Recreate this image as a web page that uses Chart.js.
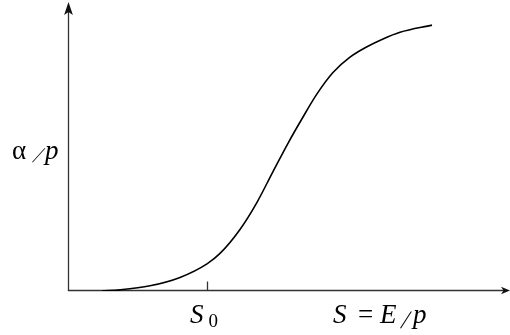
<!DOCTYPE html>
<html>
<head>
<meta charset="utf-8">
<script src="https://cdn.jsdelivr.net/npm/chart.js@4"></script>
<style>
  body { margin: 0; background: #fff; }
  canvas { display: block; }
</style>
</head>
<body>
<canvas id="curveChart" width="510" height="335"></canvas>
<script>
// S = E/p along the horizontal axis, alpha/p on the vertical one
const sValues = [0.769, 1.176, 1.855, 2.534, 3.145, 3.439, 3.891, 4.276, 4.638, 4.977, 5.294, 5.633, 5.995, 6.380, 6.765, 7.127, 7.511, 8.235];
const alphaValues = [0, 0.004, 0.018, 0.047, 0.094, 0.130, 0.213, 0.307, 0.413, 0.511, 0.596, 0.682, 0.756, 0.809, 0.845, 0.872, 0.895, 0.920];
const s0 = 3.145;

const serif = '"Liberation Serif", "Times New Roman", serif';

// build the point list for the line dataset
const points = sValues.map((s, i) => ({ x: s, y: alphaValues[i] }));

function arrowHead(ctx, tipX, tipY, dirX, dirY, len, half, notch) {
  // dir is a unit vector pointing the way the arrow points
  const bx = tipX - dirX * len, by = tipY - dirY * len;
  const nx = tipX - dirX * notch, ny = tipY - dirY * notch;
  ctx.beginPath();
  ctx.moveTo(tipX, tipY);
  ctx.lineTo(bx - dirY * half, by + dirX * half);
  ctx.lineTo(nx, ny);
  ctx.lineTo(bx + dirY * half, by - dirX * half);
  ctx.closePath();
  ctx.fill();
}

function label(ctx, str, x, y, font) {
  ctx.font = font;
  ctx.fillText(str, x, y);
}

// slanted slash: a "/" sheared so its top leans further right
function slash(ctx, x, y, size, lean) {
  ctx.save();
  ctx.translate(x, y);
  ctx.transform(1, 0, -lean, 1, 0, 0);
  label(ctx, '/', 0, 0, size + 'px ' + serif);
  ctx.restore();
}

const axesPlugin = {
  id: 'arrowAxes',
  beforeDatasetsDraw(chart) {
    const ctx = chart.ctx;
    const xs = chart.scales.x, ys = chart.scales.y;
    const x0 = Math.round(xs.getPixelForValue(0)) + 0.5;
    const y0 = Math.round(ys.getPixelForValue(0)) - 0.5;
    const top = chart.chartArea.top;
    const right = chart.chartArea.right;

    ctx.save();
    ctx.strokeStyle = '#333';
    ctx.fillStyle = '#111';
    ctx.lineWidth = 1.3;

    // vertical axis
    ctx.beginPath();
    ctx.moveTo(x0, y0 + 0.6);
    ctx.lineTo(x0, top + 10);
    ctx.stroke();
    arrowHead(ctx, x0, top, 0, -1, 13, 4.4, 10);

    // horizontal axis
    ctx.beginPath();
    ctx.moveTo(x0 - 0.6, y0);
    ctx.lineTo(right - 6, y0);
    ctx.stroke();
    arrowHead(ctx, right, y0, 1, 0, 9, 3.8, 6.5);

    // tick at S0
    const tx = Math.round(xs.getPixelForValue(s0)) + 0.5;
    ctx.beginPath();
    ctx.moveTo(tx, y0 - 9);
    ctx.lineTo(tx, y0);
    ctx.stroke();
    ctx.restore();
  },
  afterDraw(chart) {
    const ctx = chart.ctx;
    const xs = chart.scales.x;
    const tx = xs.getPixelForValue(s0);
    const it = 'italic 27px ' + serif;
    const up = '27px ' + serif;
    ctx.save();
    ctx.fillStyle = '#000';
    ctx.textBaseline = 'alphabetic';
    ctx.textAlign = 'left';

    // vertical axis label: alpha / p
    label(ctx, 'α', 12, 159, up);
    slash(ctx, 32, 162, 21, 0.55);
    label(ctx, 'p', 45, 159, it);

    // S0 under its tick
    label(ctx, 'S', tx - 17, 323, it);
    label(ctx, '0', tx + 1.5, 327, '19px ' + serif);

    // horizontal axis label: S = E / p
    label(ctx, 'S', 333, 323, it);
    label(ctx, '=', 358, 323, up);
    label(ctx, 'E', 380, 323, it);
    slash(ctx, 400, 328, 25, 0.3);
    label(ctx, 'p', 413, 323, it);
    ctx.restore();
  }
};

new Chart(document.getElementById('curveChart'), {
  type: 'line',
  data: {
    datasets: [{
      data: points,
      borderColor: '#000',
      borderWidth: 1.6,
      pointRadius: 0,
      fill: false,
      cubicInterpolationMode: 'monotone'
    }]
  },
  options: {
    responsive: false,
    animation: false,
    layout: { padding: { left: 68, top: 2, right: 0, bottom: 44 } },
    plugins: {
      legend: { display: false },
      tooltip: { enabled: false }
    },
    scales: {
      x: { type: 'linear', min: 0, max: 10, display: false },
      y: { min: 0, max: 1, display: false }
    }
  },
  plugins: [axesPlugin]
});
</script>
</body>
</html>
